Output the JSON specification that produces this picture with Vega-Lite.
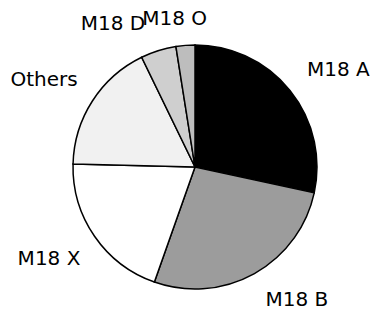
{
  "$schema": "https://vega.github.io/schema/vega-lite/v6.json",
  "width": 244,
  "height": 244,
  "autosize": {"type": "none"},
  "padding": {"left": 73, "top": 45, "right": 55, "bottom": 30},
  "background": "white",
  "view": {"stroke": null},
  "data": {
    "values": [
      {"label": "M18 A", "value": 28.4, "k": 1},
      {"label": "M18 B", "value": 27.0, "k": 2},
      {"label": "M18 X", "value": 20.0, "k": 3},
      {"label": "Others", "value": 17.4, "k": 4},
      {"label": "M18 D", "value": 4.7, "k": 5},
      {"label": "M18 O", "value": 2.5, "k": 6}
    ]
  },
  "encoding": {
    "theta": {"field": "value", "type": "quantitative", "stack": true},
    "order": {"field": "k", "type": "quantitative"}
  },
  "layer": [
    {
      "mark": {"type": "arc", "outerRadius": 122, "stroke": "black", "strokeWidth": 1.5},
      "encoding": {
        "color": {
          "field": "label",
          "type": "nominal",
          "scale": {
            "domain": ["M18 A", "M18 B", "M18 X", "Others", "M18 D", "M18 O"],
            "range": ["#000000", "#9c9c9c", "#ffffff", "#f1f1f1", "#cfcfcf", "#bdbdbd"]
          },
          "legend": null
        }
      }
    },
    {
      "mark": {"type": "text", "radius": 170, "dx": 11, "dy": 10, "font": "DejaVu Sans", "fontSize": 20, "fill": "black"},
      "encoding": {"text": {"condition": {"test": "datum.label == 'M18 A'", "field": "label"}, "value": ""}}
    },
    {
      "mark": {"type": "text", "radius": 170, "dx": 19, "dy": -15, "font": "DejaVu Sans", "fontSize": 20, "fill": "black"},
      "encoding": {"text": {"condition": {"test": "datum.label == 'M18 B'", "field": "label"}, "value": ""}}
    },
    {
      "mark": {"type": "text", "radius": 170, "dx": -6, "dy": -4, "font": "DejaVu Sans", "fontSize": 20, "fill": "black"},
      "encoding": {"text": {"condition": {"test": "datum.label == 'M18 X'", "field": "label"}, "value": ""}}
    },
    {
      "mark": {"type": "text", "radius": 170, "dx": -8, "dy": 5, "font": "DejaVu Sans", "fontSize": 20, "fill": "black"},
      "encoding": {"text": {"condition": {"test": "datum.label == 'Others'", "field": "label"}, "value": ""}}
    },
    {
      "mark": {"type": "text", "radius": 170, "dx": -31, "dy": 19, "font": "DejaVu Sans", "fontSize": 20, "fill": "black"},
      "encoding": {"text": {"condition": {"test": "datum.label == 'M18 D'", "field": "label"}, "value": ""}}
    },
    {
      "mark": {"type": "text", "radius": 170, "dx": -7, "dy": 21, "font": "DejaVu Sans", "fontSize": 20, "fill": "black"},
      "encoding": {"text": {"condition": {"test": "datum.label == 'M18 O'", "field": "label"}, "value": ""}}
    }
  ]
}
